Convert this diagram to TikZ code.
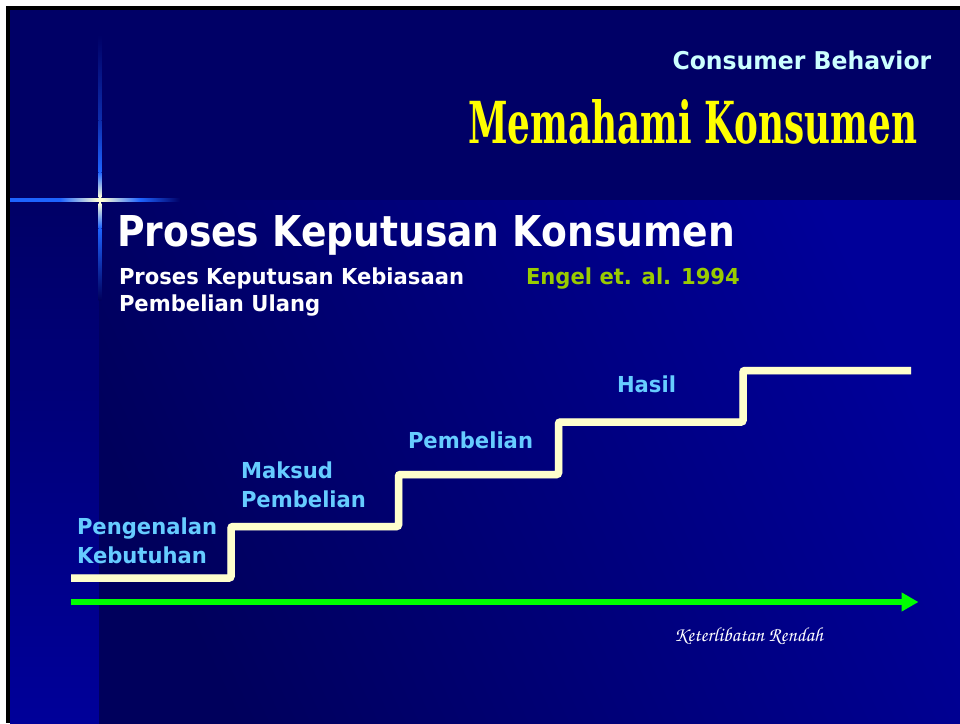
\documentclass[tikz,border=0pt]{standalone}
\usepackage{fontspec}
\usepackage{graphicx}
\usetikzlibrary{arrows.meta}
\newfontfamily\lblf{DejaVu Sans}[FakeStretch=0.96]
\newfontfamily\ttlf{DejaVu Sans}[FakeStretch=0.886]
\newfontfamily\memf{DejaVu Serif}
\newfontfamily\scrf{TeX Gyre Chorus}
\definecolor{topband}{RGB}{0,0,102}
\definecolor{bglight}{RGB}{0,0,153}
\definecolor{bgdark}{RGB}{0,0,92}
\definecolor{starblue}{RGB}{30,100,255}
\definecolor{starwhite}{RGB}{255,255,215}
\definecolor{cream}{RGB}{255,255,204}
\definecolor{stairshadow}{RGB}{70,70,150}
\definecolor{lblblue}{RGB}{102,204,255}
\definecolor{cbcyan}{RGB}{204,255,255}
\definecolor{engel}{RGB}{153,204,0}
\definecolor{memyellow}{RGB}{255,255,0}
\definecolor{arrowgreen}{RGB}{0,255,0}
\newcommand{\tlines}[3]{\vtop{\baselineskip=#3\hbox{#1}\hbox{#2}}}
\begin{document}
\begin{tikzpicture}[x=1pt,y=-1pt,
  txt/.style={anchor=base west, inner sep=0pt, outer sep=0pt},
  lbl/.style={txt, text=lblblue, font={\lblf\bfseries\fontsize{22}{29}\selectfont}},
  stair/.style={draw=cream, line width=7.5pt, rounded corners=2pt},
  stairsh/.style={draw=stairshadow, line width=7.5pt, rounded corners=2pt},
  garrow/.style={draw=arrowgreen, line width=6pt, -{Triangle[length=17pt,width=18pt]}}]
\useasboundingbox (0,0) rectangle (960,723);
% page and frame
\fill[white] (0,0) rectangle (960,723);
\fill[black] (6,6) rectangle (960,723);
\fill[topband] (10,10) rectangle (960,200.5);
\shade[top color=topband, bottom color=bglight] (10,200.5) rectangle (99,723);
\shade[shading=axis, top color=bglight, bottom color=bgdark, shading angle=-65] (99,200.5) rectangle (960,723);
% sparkle
\fill[starblue] (10,198.4) rectangle (60,201.6);
\shade[left color=starblue, right color=starwhite] (60,198.4) rectangle (98,201.6);
\fill[starwhite] (98,198.4) rectangle (102,201.6);
\shade[left color=starwhite, right color=starblue] (102,198.4) rectangle (140,201.6);
\shade[left color=starblue, right color=topband] (140,198.4) rectangle (180,201.6);
\shade[top color=topband, bottom color=starblue!45!topband] (98.7,35) rectangle (101.3,120);
\shade[top color=starblue!45!topband, bottom color=starblue] (98.7,120) rectangle (101.3,172);
\shade[top color=starblue, bottom color=starwhite] (98.7,172) rectangle (101.3,197);
\fill[starwhite] (98.7,197) rectangle (101.3,203);
\shade[top color=starwhite, bottom color=starblue] (98.7,203) rectangle (101.3,228);
\shade[top color=starblue, bottom color=bgdark] (98.7,228) rectangle (101.3,300);
% header texts
\node[txt, text=cbcyan, font={\lblf\bfseries\fontsize{24.5}{29}\selectfont}] (cb) at (672.5,69.3) {Consumer Behavior};
\node[txt, text=memyellow, font={\memf\bfseries\fontsize{40}{48}\selectfont}] (mk) at (468,143.3) {\resizebox{449pt}{44pt}{Memahami Konsumen}};
\node[txt, text=white, font={\ttlf\bfseries\fontsize{42.5}{50}\selectfont}] (title) at (117,246.7) {Proses Keputusan Konsumen};
\node[txt, text=white, font={\lblf\bfseries\fontsize{22}{27}\selectfont}] (sub) at (119,284.3) {\tlines{Proses Keputusan Kebiasaan}{Pembelian Ulang}{27pt}};
\node[txt, text=engel, font={\lblf\bfseries\fontsize{22}{27}\selectfont}] (eng) at (526,284.3) {Engel et. al. 1994};
% staircase
\coordinate (s0) at (71,578);
\coordinate (s1) at (231,578);
\coordinate (s2) at (231,526.5);
\coordinate (s3) at (398.5,526.5);
\coordinate (s4) at (398.5,474.5);
\coordinate (s5) at (558.5,474.5);
\coordinate (s6) at (558.5,422);
\coordinate (s7) at (743,422);
\coordinate (s8) at (743,370.5);
\coordinate (s9) at (911,370.5);
\begin{scope}[shift={(0.8,1.3)}]
\draw[stairsh] (s0) -- (s1) -- (s2) -- (s3) -- (s4) -- (s5) -- (s6) -- (s7) -- (s8) -- (s9);
\end{scope}
\draw[stair] (s0) -- (s1) -- (s2) -- (s3) -- (s4) -- (s5) -- (s6) -- (s7) -- (s8) -- (s9);
% step labels
\node[lbl] (lpeng) at (77,534) {\tlines{Pengenalan}{Kebutuhan}{29pt}};
\node[lbl] (lmaks) at (241,478) {\tlines{Maksud}{Pembelian}{29pt}};
\node[lbl] (lpemb) at (408,448) {Pembelian};
\node[lbl] (lhasil) at (617,392) {Hasil};
% axis arrow
\coordinate (g0) at (71,602);
\coordinate (g1) at (918.5,602);
\draw[garrow] (g0) -- (g1);
\node[txt, text=white, font={\scrf\fontsize{20}{24}\selectfont}] (ket) at (674,641.7) {\resizebox{149pt}{!}{Keterlibatan Rendah}};
\end{tikzpicture}
\end{document}
